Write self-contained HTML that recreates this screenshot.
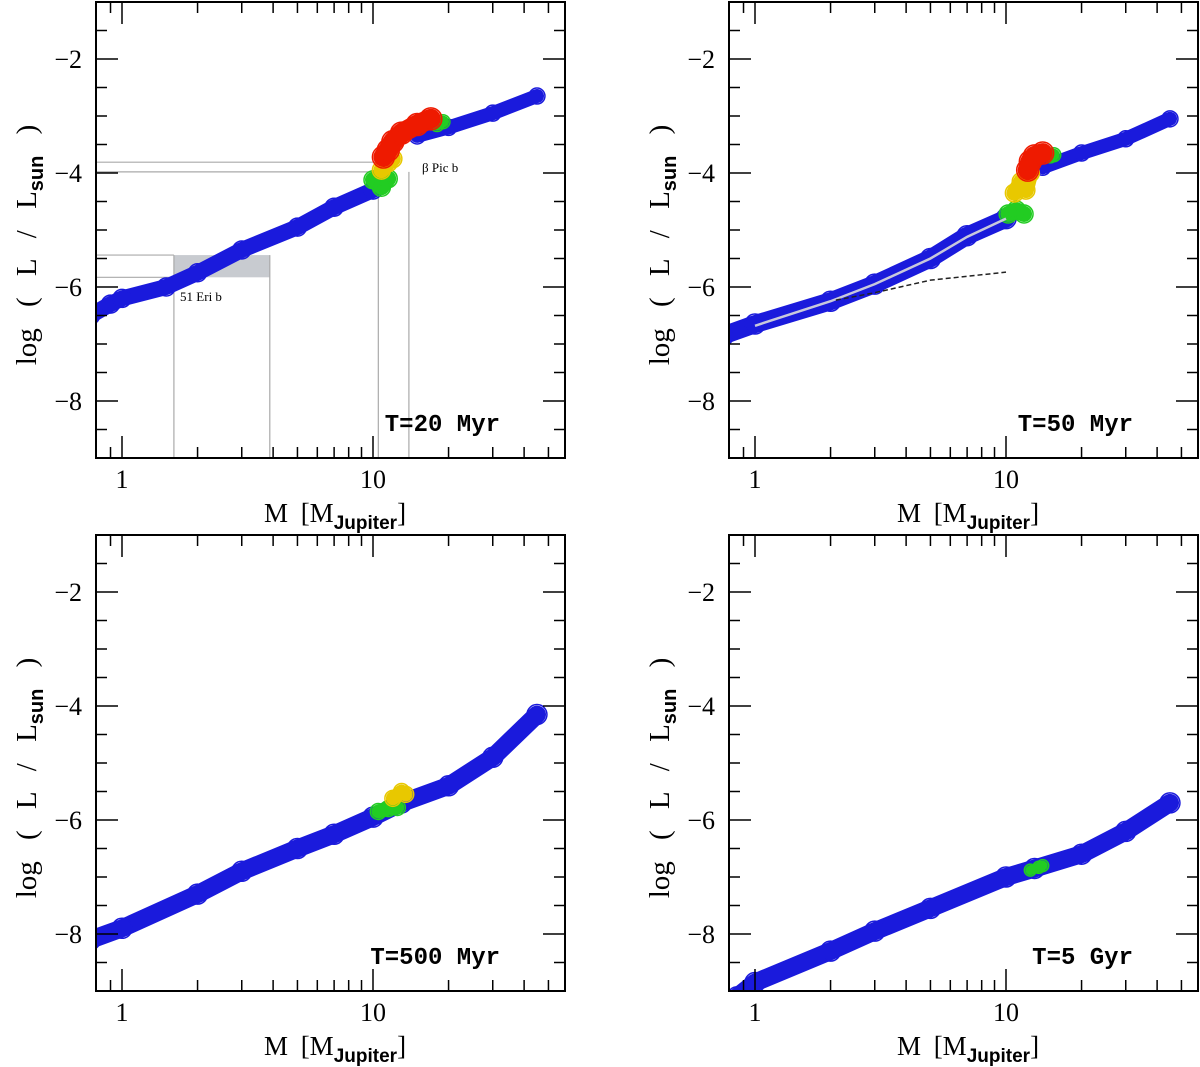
<!DOCTYPE html>
<html><head><meta charset="utf-8"><style>
body{margin:0;background:#fff}
svg{display:block}
text{font-family:"Liberation Serif",serif;fill:#000}
</style></head><body>
<svg id="s" width="1200" height="1067" xmlns="http://www.w3.org/2000/svg"></svg>
<script>
const NS="http://www.w3.org/2000/svg";
const panelTitles=["T=20 Myr","T=50 Myr","T=500 Myr","T=5 Gyr"];
const yTicks=[-2,-4,-6,-8];
const xTickLabels=[1,10];
const blue1=[[0.75,-6.5],[0.9,-6.3],[1,-6.2],[1.5,-6.0],[2,-5.75],[3,-5.35],[5,-4.95],[7,-4.6],[10,-4.3]];
const blueHi1=[[15,-3.35],[20,-3.2],[30,-2.95],[45,-2.65]];
const green1=[[10,-4.12],[10.8,-4.25],[11.5,-4.1]];
const greenHi1=[[18,-3.15],[19,-3.1]];
const yellow1=[[10.8,-3.95],[11.5,-3.82],[12,-3.75]];
const red1=[[11,-3.72],[11.5,-3.6],[12,-3.45],[13,-3.3],[15,-3.15],[17,-3.05]];
const blue2=[[0.75,-6.85],[1,-6.65],[2,-6.25],[3,-5.95],[5,-5.5],[7,-5.1],[10,-4.8]];
const blueHi2=[[14,-3.9],[20,-3.65],[30,-3.4],[45,-3.05]];
const green2=[[10.2,-4.72],[11,-4.65],[11.8,-4.72]];
const greenHi2=[[15,-3.7],[15.5,-3.68]];
const yellow2=[[10.8,-4.35],[11.5,-4.15],[12,-4.3],[12.5,-4.0]];
const red2=[[12.2,-3.95],[12.5,-3.8],[13,-3.7],[14,-3.65]];
const white2=[[1,-6.68],[2,-6.25],[3,-5.95],[5,-5.5],[7,-5.12],[10,-4.8]];
const dash2=[[2.1,-6.23],[3,-6.1],[5,-5.88],[10,-5.74]];
const blue3=[[0.75,-8.1],[1,-7.9],[2,-7.3],[3,-6.9],[5,-6.5],[7,-6.25],[10,-5.95],[13,-5.7],[20,-5.4],[30,-4.9],[45,-4.15]];
const green3=[[10.5,-5.85],[11.5,-5.8],[12.5,-5.78]];
const yellow3=[[12,-5.62],[13,-5.5],[13.5,-5.55]];
const blue4=[[0.85,-9.1],[1,-8.85],[2,-8.3],[3,-7.95],[5,-7.55],[10,-7.0],[13,-6.85],[20,-6.6],[30,-6.2],[45,-5.7]];
const green4=[[12.5,-6.88],[13.5,-6.83],[14,-6.8]];
const offsets=[[0,0],[633,0],[0,533],[633,533]];
const svg=document.getElementById('s');
function mk(tag,attrs,parent){const e=document.createElementNS(NS,tag);for(const k in attrs)e.setAttribute(k,attrs[k]);(parent||svg).appendChild(e);return e;}
const defs=mk('defs',{});
function panel(i){
 const [ox,oy]=offsets[i];
 const X=m=>ox+122+251*Math.log10(m);
 const Y=v=>oy+59-57*(v+2);
 const cp=mk('clipPath',{id:'c'+i},defs);
 mk('rect',{x:ox+96,y:oy+2,width:469,height:456},cp);
 const g=mk('g',{});
 
 
 const d=mk('g',{'clip-path':'url(#c'+i+')'},g);
 
 
 return {g,d,X,Y,ox,oy};
}
function band(p,pts,color,w,name){
 const d=pts.map((q,k)=>(k?'L':'M')+p.X(q[0]).toFixed(1)+' '+p.Y(q[1]).toFixed(1)).join(' ');
 const path=mk('path',{d:d,stroke:color,'stroke-width':w,fill:'none','stroke-linecap':'round','stroke-linejoin':'round'},p.d);
 
 
 pts.forEach(q=>{
  const c=mk('circle',{cx:p.X(q[0]),cy:p.Y(q[1]),r:w/2+1,fill:'none',stroke:color,'stroke-width':1.5},p.d);
  
  
 });
}
function axes(p,title){
 const {g,X,Y,ox,oy}=p;
 const L=ox+96,R=ox+565,T=oy+2,B=oy+458;
 const fr=mk('rect',{x:L,y:T,width:R-L,height:B-T,fill:'none',stroke:'#000','stroke-width':2},g);
 
 
 for(let v=-9;v<=-1;v+=0.5){
  const y=Y(v);const len=(v%2===0)?22:11;
  mk('line',{x1:L,x2:L+len,y1:y,y2:y,stroke:'#000','stroke-width':1.5},g);
  mk('line',{x1:R,x2:R-len,y1:y,y2:y,stroke:'#000','stroke-width':1.5},g);
 }
 yTicks.forEach(v=>{const t=mk('text',{x:L-14,y:Y(v)+9,'text-anchor':'end','font-size':26},g);t.textContent='\u2212'+(-v);
  });
 const ms=[0.9,1,2,3,4,5,6,7,8,9,10,20,30,40,50];
 ms.forEach(m=>{const x=X(m);const len=(m===1||m===10)?22:11;
  mk('line',{x1:x,x2:x,y1:B,y2:B-len,stroke:'#000','stroke-width':1.5},g);
  mk('line',{x1:x,x2:x,y1:T,y2:T+len,stroke:'#000','stroke-width':1.5},g);});
 xTickLabels.forEach(m=>{const t=mk('text',{x:X(m),y:B+30,'text-anchor':'middle','font-size':26},g);t.textContent=m;
  });
 const xt=mk('text',{x:ox+335,y:oy+522,'text-anchor':'middle','font-size':27,'word-spacing':'6'},g);
 xt.innerHTML='M [M<tspan font-size="19" dy="7" font-weight="bold" font-family="Liberation Sans, sans-serif">Jupiter</tspan><tspan dy="-7">]</tspan>';
 
 const yt=mk('text',{x:0,y:0,'text-anchor':'middle','font-size':29,'word-spacing':'14',transform:`translate(${ox+36},${oy+245}) rotate(-90)`},g);
 yt.innerHTML='log ( L / L<tspan font-size="20" dy="7" font-weight="bold" font-family="Liberation Sans, sans-serif">sun</tspan><tspan dy="-7"> )</tspan>';
 
 const tt=mk('text',{x:ox+500,y:oy+431,'text-anchor':'end','font-size':24,'font-weight':'bold',style:'font-family:"Liberation Mono",monospace'},g);
 tt.textContent=title;
 
}
let p=panel(0);
const gl={stroke:'#aaa','stroke-width':1.2,fill:'none'};
const box=mk('rect',{x:p.X(1.61),y:p.Y(-5.44),width:p.X(3.88)-p.X(1.61),height:p.Y(-5.83)-p.Y(-5.44),fill:'#c8cbd0'},p.d);

[[-5.44,1.61],[-5.83,1.61],[-3.81,10.5],[-3.98,10.5]].forEach(a=>mk('line',Object.assign({x1:96,x2:p.X(a[1]),y1:p.Y(a[0]),y2:p.Y(a[0])},gl),p.d));
mk('line',Object.assign({x1:p.X(3.88),x2:p.X(3.88),y1:p.Y(-5.44),y2:458},gl),p.d);
mk('line',Object.assign({x1:p.X(1.61),x2:p.X(1.61),y1:p.Y(-5.44),y2:458},gl),p.d);
mk('line',Object.assign({x1:p.X(10.5),x2:p.X(10.5),y1:p.Y(-3.81),y2:458},gl),p.d);
mk('line',Object.assign({x1:p.X(13.9),x2:p.X(13.9),y1:p.Y(-3.98),y2:458},gl),p.d);
band(p,blue1,'#1a1adc',16,'blue-low');band(p,blueHi1,'#1a1adc',14,'blue-high');
band(p,green1,'#22cc22',16,'green');band(p,greenHi1,'#22cc22',12,'green-high');band(p,yellow1,'#e8c800',16,'yellow');band(p,red1,'#ee1a00',20,'red');
let t=mk('text',{x:201,y:301,'text-anchor':'middle','font-size':13},p.g);t.textContent='51 Eri b';

t=mk('text',{x:422,y:172,'text-anchor':'start','font-size':13},p.g);t.textContent='β Pic b';

axes(p,panelTitles[0]);
p=panel(1);
band(p,blue2,'#1a1adc',18,'blue-low');band(p,blueHi2,'#1a1adc',14,'blue-high');
band(p,green2,'#22cc22',16,'green');band(p,greenHi2,'#22cc22',12,'green-high');band(p,yellow2,'#e8c800',16,'yellow');band(p,red2,'#ee1a00',20,'red');
let wl=mk('path',{d:white2.map((q,k)=>(k?'L':'M')+p.X(q[0])+' '+p.Y(q[1])).join(' '),stroke:'#c8c8dc','stroke-width':2.5,fill:'none'},p.d);

let dl=mk('path',{d:dash2.map((q,k)=>(k?'L':'M')+p.X(q[0])+' '+p.Y(q[1])).join(' '),stroke:'#222','stroke-width':1.5,fill:'none','stroke-dasharray':'5,3'},p.d);

axes(p,panelTitles[1]);
p=panel(2);
band(p,blue3,'#1a1adc',18,'blue');band(p,green3,'#22cc22',14,'green');band(p,yellow3,'#e8c800',14,'yellow');
axes(p,panelTitles[2]);
p=panel(3);
band(p,blue4,'#1a1adc',18,'blue');band(p,green4,'#22cc22',10,'green');
axes(p,panelTitles[3]);
</script>
</body></html>
